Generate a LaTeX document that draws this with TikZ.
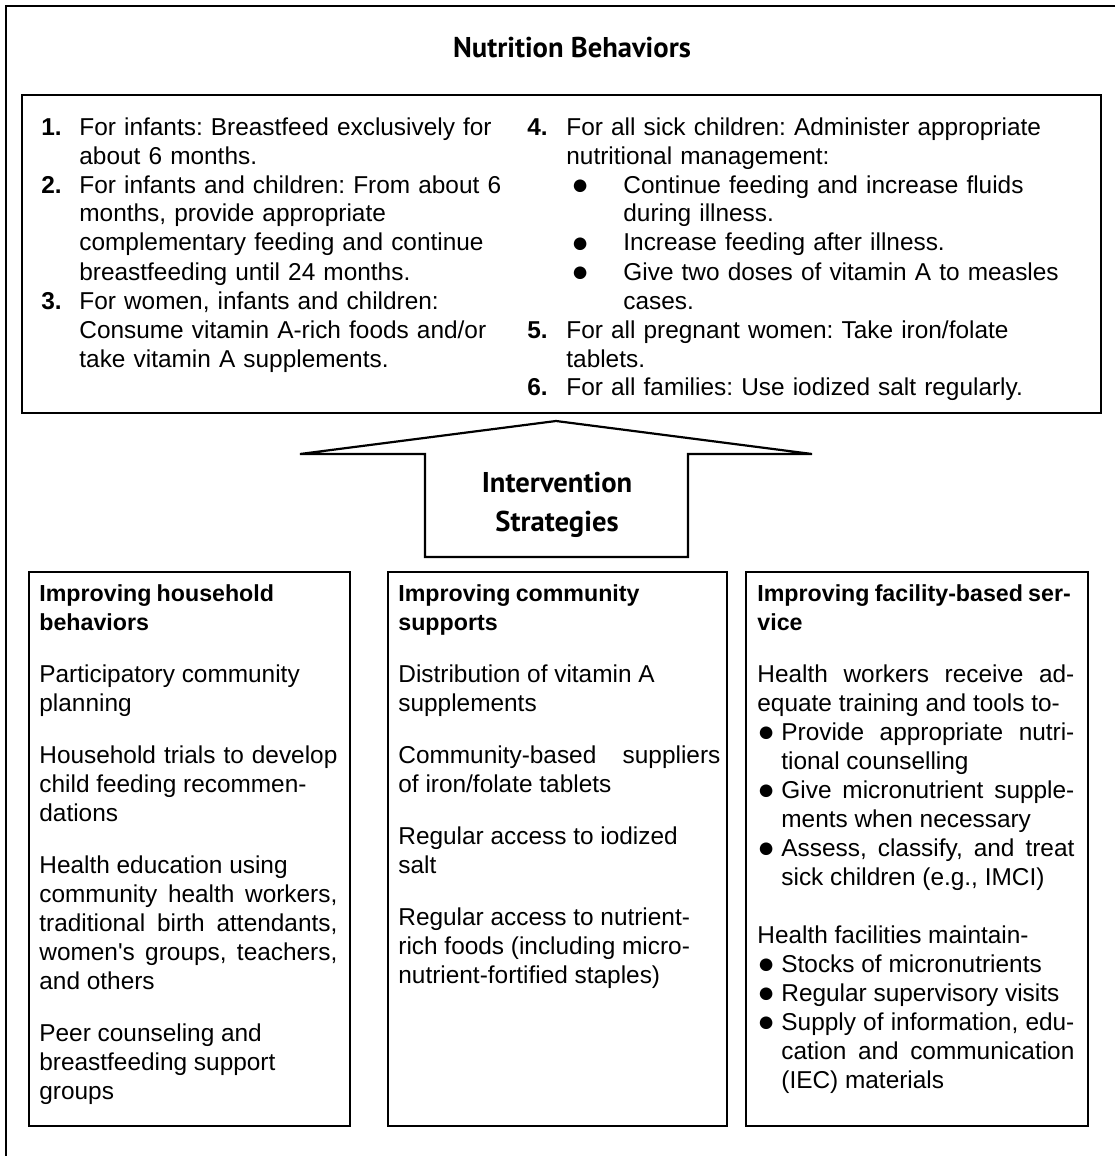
\documentclass[tikz,border=0pt]{standalone}
\usepackage{graphicx}
\usepackage{fontspec}
\setmainfont{Liberation Sans}
\newfontfamily\headFont{PT Sans}
\usetikzlibrary{positioning,calc}

% list helpers (hanging items, bullets, titles)
\newcommand{\bigDot}{\raisebox{-0.6pt}{\scalebox{1.2}{●}}}
\newcommand{\numItem}[3]{\noindent\hangindent=#1\hangafter=1\makebox[#1][l]{\bfseries #2}#3\par}
\newcommand{\subBul}[1]{\par\noindent\hangindent=48pt\hangafter=1\hspace*{22pt}\makebox[26pt][l]{\bigDot}#1\par}
\newcommand{\boxBul}[1]{\par\noindent\hangindent=12pt\hangafter=1\makebox[12pt][l]{\bigDot}#1\par}
\newcommand{\boxTitle}[2]{{\fontsize{11.6}{14.5}\bfseries\spaceskip=2.6pt plus 1pt minus 1pt
		\mbox{#1}\newline\mbox{#2}\par}}
\newcommand{\paraGap}{\par\vspace{11.5pt}}

\begin{document}
\begin{tikzpicture}[x=0.5pt,y=-0.5pt, line join=miter,
		frame/.style={black, line width=1.1pt},
		body/.style={font=\fontsize{12.2}{14.5}\selectfont, inner sep=0pt, anchor=base west,
			execute at begin node={\tolerance=10000\frenchspacing}},
		head/.style={font=\headFont\bfseries\fontsize{14.3}{19.5}\selectfont, inner sep=0pt}]
	
	\useasboundingbox (0,0) rectangle (1115,1156);
	
	% ---- outer frame (only left and top are visible)
	\draw[frame] (1115,6) -- (6,6) -- (6,1156);
	
	% ---- heading
	\node[head, anchor=base] (nbTitle) at (572,58) {Nutrition Behaviors};
	
	% ---- behaviours box
	\coordinate (TL) at (22,95);
	\coordinate (BR) at (1101,413);
	\draw[frame] (TL) rectangle (BR);
	
	\node[body, align=left, text width=238pt] (colL) at (41,135) {%
		\numItem{19pt}{1.}{For infants: Breastfeed exclusively for\newline about 6 months.}%
		\numItem{19pt}{2.}{For infants and children: From about 6\newline months, provide appropriate\newline complementary feeding and continue\newline breastfeeding until 24 months.}%
		\numItem{19pt}{3.}{For women, infants and children:\newline Consume vitamin A-rich foods and/or\newline take vitamin A supplements.}};
	
	\node[body, align=left, text width=270pt] (colR) at (527,135) {%
		\numItem{19.5pt}{4.}{For all sick children: Administer appropriate\newline nutritional management:}%
		\subBul{Continue feeding and increase fluids\newline during illness.}%
		\subBul{Increase feeding after illness.}%
		\subBul{Give two doses of vitamin A to measles\newline cases.}%
		\numItem{19.5pt}{5.}{For all pregnant women: Take iron/folate\newline tablets.}%
		\numItem{19.5pt}{6.}{For all families: Use iodized salt regularly.}};
	
	% ---- up arrow
	\coordinate (Apex) at (556,421);
	\draw[frame] (Apex) -- (812,454) -- (688,454) -- (688,557) -- (425,557)
	-- (425,454) -- (300,454) -- cycle;
	\node[head, align=center] (isLabel) at (557,505) {Intervention\\Strategies};
	
	% ---- three strategy boxes
	\foreach \xl/\xr in {29/350, 388/727, 746/1088}{
		\draw[frame] (\xl,572) rectangle (\xr,1126);
	}
	
	\node[body, align=justify, text width=149pt] (hhTxt) at (39,601) {%
		\boxTitle{Improving household}{behaviors}\paraGap
		Participatory community\newline planning\paraGap
		Household trials to develop\linebreak child feeding recommen-\newline dations\paraGap
		Health education using\newline community health workers,\linebreak traditional birth attendants,\linebreak women\textquotesingle s groups, teachers,\linebreak and others\paraGap
		Peer counseling and\newline breastfeeding support\newline groups};
	
	\node[body, align=justify, text width=161pt] (cmTxt) at (398,601) {%
		\boxTitle{Improving community}{supports}\paraGap
		Distribution of vitamin A\newline supplements\paraGap
		Community-based suppliers\linebreak of iron/folate tablets\paraGap
		Regular access to iodized\newline salt\paraGap
		Regular access to nutrient-\newline rich foods (including micro-\newline nutrient-fortified staples)};
	
	\node[body, align=justify, text width=158.5pt] (fcTxt) at (757,601) {%
		\boxTitle{Improving facility-based ser-}{vice}\paraGap
		Health workers receive ad-\linebreak equate training and tools to-%
		\boxBul{Provide appropriate nutri-\linebreak tional counselling}%
		\boxBul{Give micronutrient supple-\linebreak ments when necessary}%
		\boxBul{Assess, classify, and treat\linebreak sick children (e.g., IMCI)}%
		\par\vspace{14.5pt}
		Health facilities maintain-%
		\boxBul{Stocks of micronutrients}%
		\boxBul{Regular supervisory visits}%
		\boxBul{Supply of information, edu-\linebreak cation and communication\linebreak (IEC) materials}};
	
\end{tikzpicture}
\end{document}
